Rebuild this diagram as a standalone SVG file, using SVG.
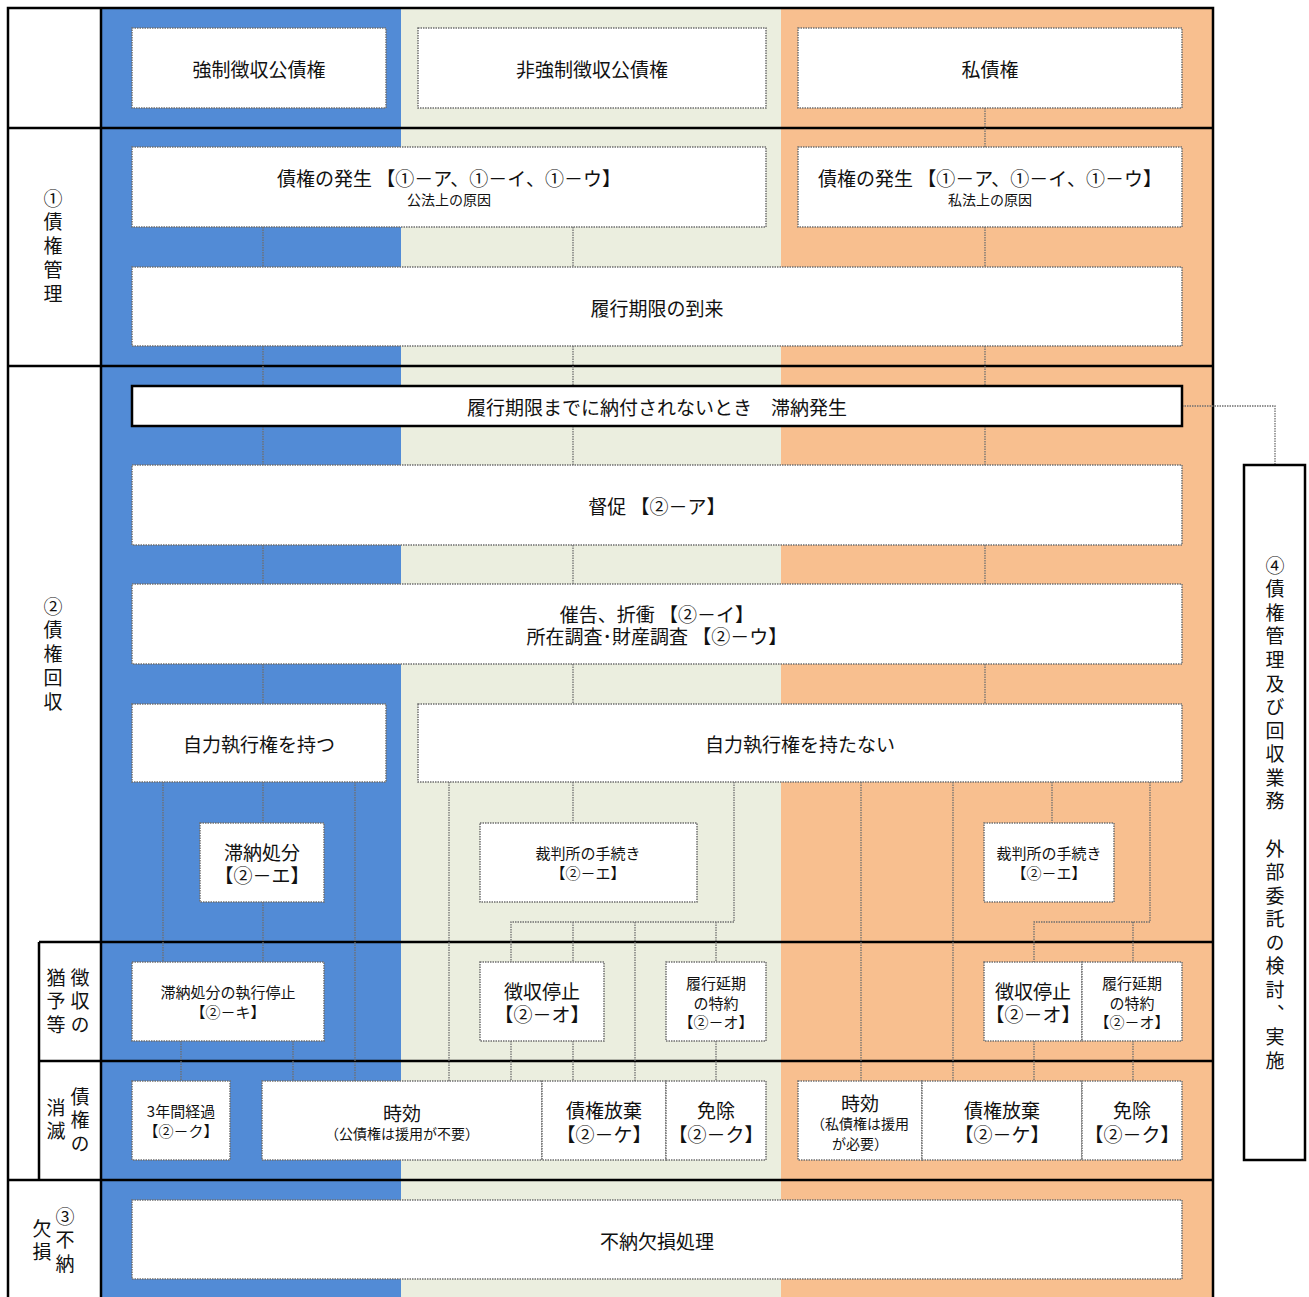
<svg xmlns="http://www.w3.org/2000/svg" width="1309" height="1297" viewBox="0 0 1309 1297">
<style>
text{font-family:"Noto Sans CJK JP","Noto Sans",sans-serif;fill:#111;}
.b{font-size:19px;text-anchor:middle;dominant-baseline:central;}
.s{font-size:15px;text-anchor:middle;dominant-baseline:central;}
.xs{font-size:14px;}
.v{font-size:19px;writing-mode:vertical-rl;letter-spacing:4.7px;}
.box{fill:#fff;stroke:#6f6f6f;stroke-width:1.5;stroke-dasharray:1.5 1;}
.sbox{fill:#fff;stroke:#000;stroke-width:2.5;}
.frame{fill:none;stroke:#000;stroke-width:2.5;}
.con{fill:none;stroke:#6f6f6f;stroke-width:1.3;stroke-dasharray:1.5 1;}
</style>
<rect width="1309" height="1297" fill="#fff"/>
<g id="background">
<rect x="101" y="8" width="300" height="1289" fill="#528BD6"/>
<rect x="401" y="8" width="380" height="1289" fill="#EBEEDF"/>
<rect x="781" y="8" width="432" height="1289" fill="#F8BF8F"/>
</g>
<g id="frame" class="frame">
<path d="M8 1297V8H1213V1297"/>
<path d="M101 8V1297"/>
<path d="M8 128H1213M8 366H1213M8 1180H1213"/>
<path d="M39 942H1213M39 1061H1213M39 942V1180"/>
</g>
<g id="connectors" class="con">
<path d="M263 227V267M263 346V386M263 426V465M263 545V584M263 664V704M263 782V823M263 902V962"/>
<path d="M573 227V267M573 346V386M573 426V465M573 545V584M573 664V704M573 782V823"/>
<path d="M985 108V147M985 227V267M985 346V386M985 426V465M985 545V584M985 664V704"/>
<path d="M163 782V962M355 782V1081M181 1041V1081M293 1041V1081"/>
<path d="M449 782V1081M734 782V922H511V962M573 922V962M635 922V1081M716 922V962M511 1041V1081M573 1041V1081M716 1041V1081"/>
<path d="M861 782V1081M953 782V1081M1052 782V823M1150 782V922H1034V962M1133 922V962M1034 1041V1081M1133 1041V1081"/>
<path d="M1182 406H1275V465"/>
</g>
<g id="label-1">
<text class="v" x="53" y="189">①債権管理</text>
</g>
<g id="label-2">
<text class="v" x="53" y="597">②債権回収</text>
</g>
<g id="label-2a">
<text class="v" x="80" y="968">徴収の</text>
<text class="v" x="56" y="968">猶予等</text>
</g>
<g id="label-2b">
<text class="v" x="80" y="1087">債権の</text>
<text class="v" x="56" y="1098">消滅</text>
</g>
<g id="label-3">
<text class="v" x="65" y="1207">③不納</text>
<text class="v" x="42" y="1219">欠損</text>
</g>
<g id="n-kyosei"><rect class="box" x="132" y="28" width="254" height="80"/><text class="b" x="259" y="68">強制徴収公債権</text></g>
<g id="n-hikyosei"><rect class="box" x="418" y="28" width="348" height="80"/><text class="b" x="592" y="68">非強制徴収公債権</text></g>
<g id="n-shi"><rect class="box" x="798" y="28" width="384" height="80"/><text class="b" x="990" y="68">私債権</text></g>
<g id="n-hassei-ko"><rect class="box" x="132" y="147" width="634" height="80"/><text class="b" x="449" y="177">債権の発生 【①－ア、①－イ、①－ウ】<tspan class="xs" x="449" dy="22">公法上の原因</tspan></text></g>
<g id="n-hassei-shi"><rect class="box" x="798" y="147" width="384" height="80"/><text class="b" x="990" y="177">債権の発生 【①－ア、①－イ、①－ウ】<tspan class="xs" x="990" dy="22">私法上の原因</tspan></text></g>
<g id="n-torai"><rect class="box" x="132" y="267" width="1050" height="79"/><text class="b" x="657" y="307">履行期限の到来</text></g>
<g id="n-tainou"><rect class="sbox" x="132" y="386" width="1050" height="40"/><text class="b" x="657" y="406">履行期限までに納付されないとき　滞納発生</text></g>
<g id="n-tokusoku"><rect class="box" x="132" y="465" width="1050" height="80"/><text class="b" x="657" y="505">督促 【②－ア】</text></g>
<g id="n-saikoku"><rect class="box" x="132" y="584" width="1050" height="80"/><text class="b" x="657" y="613">催告、折衝 【②－イ】<tspan x="657" dy="22">所在調査･財産調査 【②－ウ】</tspan></text></g>
<g id="n-jiriki"><rect class="box" x="132" y="704" width="254" height="78"/><text class="b" x="259" y="743">自力執行権を持つ</text></g>
<g id="n-jiriki-nashi"><rect class="box" x="418" y="704" width="764" height="78"/><text class="b" x="800" y="743">自力執行権を持たない</text></g>
<g id="n-tainoushobun"><rect class="box" x="200" y="823" width="124" height="79"/><text class="b" x="262" y="851">滞納処分<tspan x="262" dy="23">【②－エ】</tspan></text></g>
<g id="n-saiban-g"><rect class="box" x="480" y="823" width="217" height="79"/><text class="s" x="588" y="852">裁判所の手続き<tspan x="588" dy="20">【②－エ】</tspan></text></g>
<g id="n-saiban-o"><rect class="box" x="984" y="823" width="130" height="79"/><text class="s" x="1049" y="852">裁判所の手続き<tspan x="1049" dy="20">【②－エ】</tspan></text></g>
<g id="n-shikkouteishi"><rect class="box" x="132" y="962" width="192" height="79"/><text class="s" x="228" y="991">滞納処分の執行停止<tspan x="228" dy="20">【②－キ】</tspan></text></g>
<g id="n-choshu-g"><rect class="box" x="480" y="962" width="124" height="79"/><text class="b" x="542" y="990">徴収停止<tspan x="542" dy="23">【②－オ】</tspan></text></g>
<g id="n-enki-g"><rect class="box" x="666" y="962" width="100" height="79"/><text class="s" x="716" y="982">履行延期<tspan x="716" dy="19.5">の特約</tspan><tspan x="716" dy="19.5">【②－オ】</tspan></text></g>
<g id="n-choshu-o"><rect class="box" x="984" y="962" width="98" height="79"/><text class="b" x="1033" y="990">徴収停止<tspan x="1033" dy="23">【②－オ】</tspan></text></g>
<g id="n-enki-o"><rect class="box" x="1082" y="962" width="100" height="79"/><text class="s" x="1132" y="982">履行延期<tspan x="1132" dy="19.5">の特約</tspan><tspan x="1132" dy="19.5">【②－オ】</tspan></text></g>
<g id="n-3nen"><rect class="box" x="132" y="1081" width="98" height="79"/><text class="s" x="181" y="1110">3年間経過<tspan x="181" dy="20">【②－ク】</tspan></text></g>
<g id="n-jiko-ko"><rect class="box" x="262" y="1081" width="280" height="79"/><text class="b" x="402" y="1112">時効<tspan class="xs" x="402" dy="21">（公債権は援用が不要）</tspan></text></g>
<g id="n-houki-g"><rect class="box" x="542" y="1081" width="124" height="79"/><text class="b" x="604" y="1109">債権放棄<tspan x="604" dy="24">【②－ケ】</tspan></text></g>
<g id="n-menjo-g"><rect class="box" x="666" y="1081" width="100" height="79"/><text class="b" x="716" y="1109">免除<tspan x="716" dy="24">【②－ク】</tspan></text></g>
<g id="n-jiko-shi"><rect class="box" x="798" y="1081" width="124" height="79"/><text class="b" x="860" y="1102">時効<tspan class="xs" x="860" dy="21">（私債権は援用</tspan><tspan class="xs" x="860" dy="20">が必要）</tspan></text></g>
<g id="n-houki-o"><rect class="box" x="922" y="1081" width="160" height="79"/><text class="b" x="1002" y="1109">債権放棄<tspan x="1002" dy="24">【②－ケ】</tspan></text></g>
<g id="n-menjo-o"><rect class="box" x="1082" y="1081" width="100" height="79"/><text class="b" x="1132" y="1109">免除<tspan x="1132" dy="24">【②－ク】</tspan></text></g>
<g id="n-kesson"><rect class="box" x="132" y="1200" width="1050" height="79"/><text class="b" x="657" y="1240">不納欠損処理</text></g>
<g id="n-itaku"><rect class="sbox" x="1244" y="465" width="61" height="695"/><text class="v" x="1275" y="556" style="letter-spacing:4.57px">④債権管理及び回収業務　外部委託の検討、実施</text></g>
</svg>
